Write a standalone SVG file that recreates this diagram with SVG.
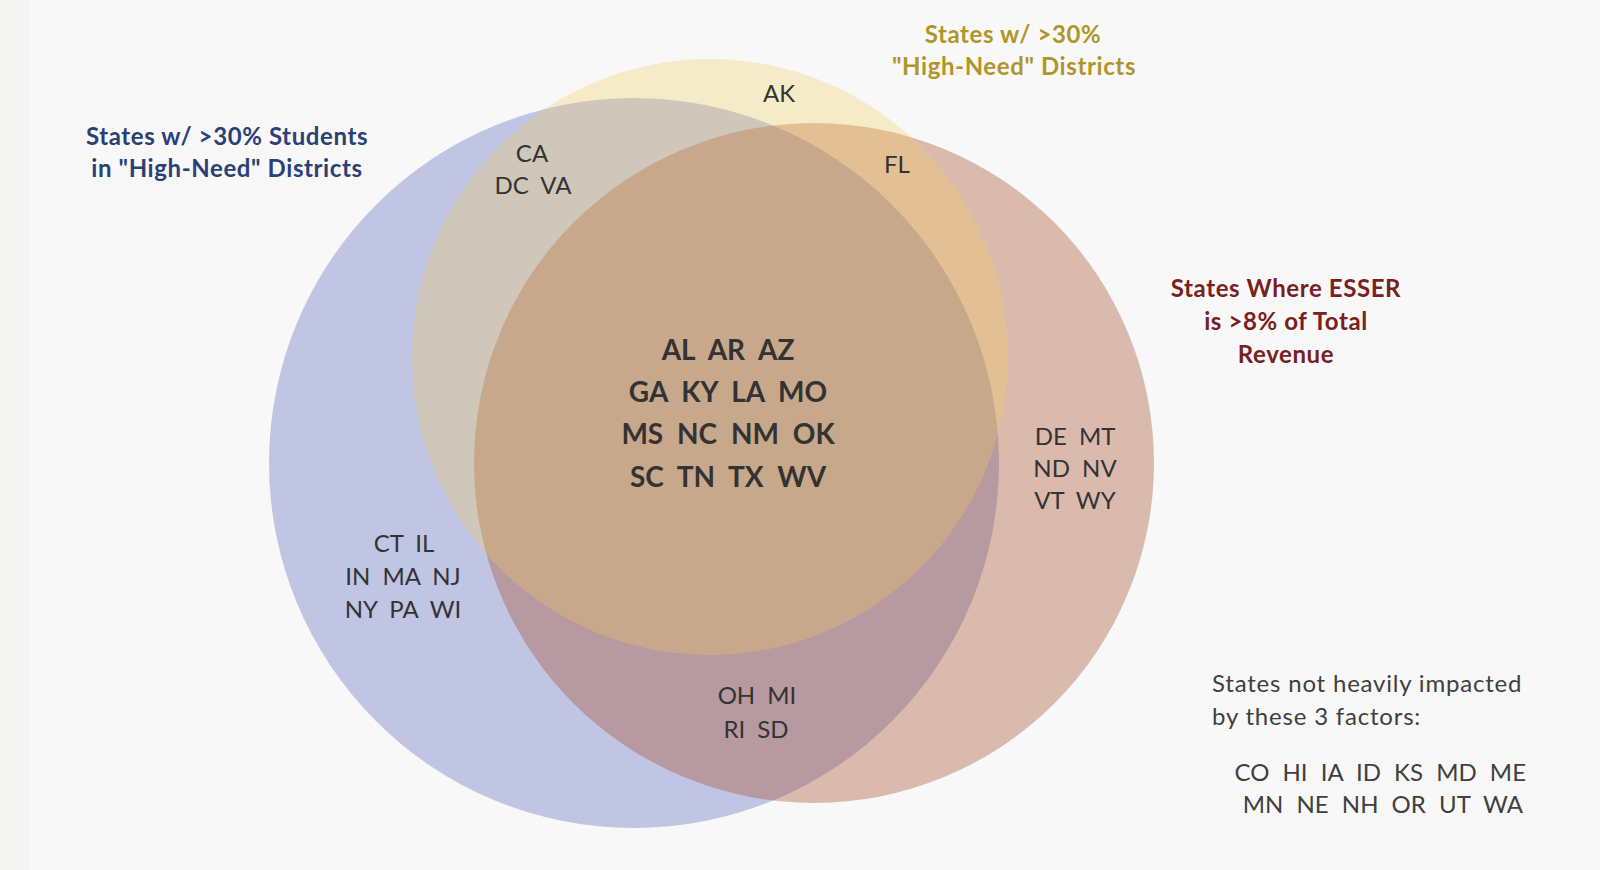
<svg xmlns="http://www.w3.org/2000/svg" width="1600" height="870" viewBox="0 0 1600 870">
<style>
.lbl{font-family:Lato,"Open Sans","Liberation Sans",sans-serif;font-size:24px;fill:#333;text-anchor:middle;word-spacing:6px}
.core{font-family:Lato,"Open Sans","Liberation Sans",sans-serif;font-size:28px;font-weight:bold;fill:#333;text-anchor:middle;word-spacing:7px}
.ttl{font-family:Lato,"Open Sans","Liberation Sans",sans-serif;font-size:24px;font-weight:bold;text-anchor:middle;letter-spacing:0.6px}
.note{font-family:Lato,"Open Sans","Liberation Sans",sans-serif;font-size:24px;fill:#404040;letter-spacing:0.8px}
.codes{font-family:Lato,"Open Sans","Liberation Sans",sans-serif;font-size:24px;fill:#404040;text-anchor:end;word-spacing:7px}
</style>
<rect width="1600" height="870" fill="#f8f8f8"/>
<rect width="30" height="870" fill="#f5f5f4"/>
<g id="circle-students">
<circle cx="634" cy="463" r="365" fill="#c0c5e3"/>
</g>
<g id="circle-esser">
<circle cx="814" cy="463" r="340" fill="rgb(167,73,38)" fill-opacity="0.35"/>
</g>
<g id="circle-districts">
<circle cx="710" cy="357" r="298" fill="rgb(241,205,88)" fill-opacity="0.3"/>
</g>
<g id="connectors"></g>
<g id="title-students">
<text class="ttl" fill="#2c4076" x="227" y="145">States w/ &gt;30% Students</text>
<text class="ttl" fill="#2c4076" x="227" y="177">in "High-Need" Districts</text>
</g>
<g id="title-districts">
<text class="ttl" fill="#b0962a" x="1013" y="43">States w/ &gt;30%</text>
<text class="ttl" fill="#b0962a" x="1014" y="75">"High-Need" Districts</text>
</g>
<g id="title-esser">
<text class="ttl" fill="#782020" x="1286" y="297">States Where ESSER</text>
<text class="ttl" fill="#782020" x="1286" y="330">is &gt;8% of Total</text>
<text class="ttl" fill="#782020" x="1286" y="363">Revenue</text>
</g>
<g id="region-all">
<text class="core" x="728" y="360">AL AR AZ</text>
<text class="core" x="728" y="402">GA KY LA MO</text>
<text class="core" x="728" y="444">MS NC NM OK</text>
<text class="core" x="728" y="487">SC TN TX WV</text>
</g>
<g id="region-districts-only">
<text class="lbl" x="779" y="102">AK</text>
</g>
<g id="region-students-districts">
<text class="lbl" x="532" y="162">CA</text>
<text class="lbl" x="533" y="194">DC VA</text>
</g>
<g id="region-districts-esser">
<text class="lbl" x="897" y="173">FL</text>
</g>
<g id="region-esser-only">
<text class="lbl" x="1075" y="445">DE MT</text>
<text class="lbl" x="1075" y="477">ND NV</text>
<text class="lbl" x="1075" y="509">VT WY</text>
</g>
<g id="region-students-only">
<text class="lbl" x="404" y="552">CT IL</text>
<text class="lbl" x="403" y="585">IN MA NJ</text>
<text class="lbl" x="403" y="618">NY PA WI</text>
</g>
<g id="region-students-esser">
<text class="lbl" x="757" y="704">OH MI</text>
<text class="lbl" x="756" y="738">RI SD</text>
</g>
<g id="outside">
<text class="note" x="1212" y="692">States not heavily impacted</text>
<text class="note" x="1212" y="725">by these 3 factors:</text>
<text class="codes" x="1526" y="781">CO HI IA ID KS MD ME</text>
<text class="codes" x="1523" y="813">MN NE NH OR UT WA</text>
</g>
</svg>
